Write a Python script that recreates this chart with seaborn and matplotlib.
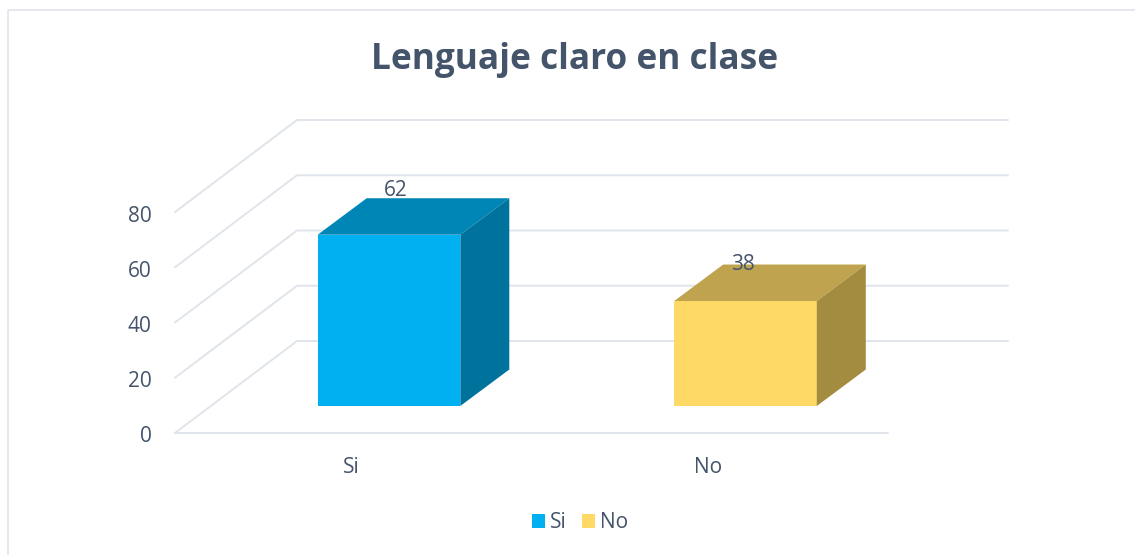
import matplotlib
matplotlib.use('Agg')
import matplotlib.pyplot as plt
from matplotlib.lines import Line2D
from matplotlib.patches import Polygon
from matplotlib.transforms import ScaledTranslation
import pandas as pd
import seaborn as sns

categorias = ['Si', 'No']
valores = [62, 38]
ticks_y = [0, 20, 40, 60, 80]
titulo = 'Lenguaje claro en clase'

cor_frente = ['#00B0F0', '#FFD966']
cor_topo = ['#0086B6', '#BFA34E']
cor_lado = ['#00739C', '#A38B40']
cor_texto = '#44546A'
cor_linha = '#E0E4EB'

sns.set_style('white')
plt.rcParams['font.family'] = ['Open Sans', 'DejaVu Sans']

W, H = 1135, 555
fig = plt.figure(figsize=(W / 100, H / 100), dpi=100)

# eixo do plano da frente (escala e rotulos) e eixo das barras, mais ao fundo
ax = fig.add_axes([175 / W, (H - 433) / H, 713 / W, 221 / H])
ax_b = fig.add_axes([210.75 / W, (H - 406) / H, 713 / W, 221 / H])
ax_b.patch.set_alpha(0)

df = pd.DataFrame({'resposta': categorias, 'pct': valores})

sns.barplot(data=df, x='resposta', y='pct', hue='resposta', palette=cor_frente,
            width=0.4, saturation=1, legend=False, linewidth=0, ax=ax_b)

for a in (ax, ax_b):
    a.set_xlim(-0.5, 1.5)
    a.set_ylim(0, 80)
    sns.despine(ax=a, left=True, bottom=True)
ax_b.axis('off')

# px -> unidades dos dados
ux = 2 / 713
uy = 80 / 221

# paredes: grade do fundo e diagonais
prof_x, prof_y = 122 * ux, 92 * uy
fim_x = 1.5 + 120 * ux
for v in ticks_y:
    ax.plot([-0.5, -0.5 + prof_x, fim_x], [v, v + prof_y, v + prof_y],
            color=cor_linha, lw=1.4, clip_on=False, zorder=1)
ax.plot([-0.5, 1.5], [0, 0], color=cor_linha, lw=1.4, clip_on=False, zorder=1)

ax.set_xticks(range(len(categorias)))
ax.set_xticklabels(categorias)
ax.set_yticks(ticks_y)
ax.tick_params(axis='both', length=0, labelsize=15, labelcolor=cor_texto)
ax.tick_params(axis='x', pad=17)
ax.tick_params(axis='y', pad=17)
ax.set_xlabel('')
ax.set_ylabel('')
for lab in ax.get_xticklabels():
    lab.set_transform(lab.get_transform() + ScaledTranslation(-2 / 100, 0, fig.dpi_scale_trans))
for lab in ax.get_yticklabels():
    lab.set_transform(lab.get_transform() + ScaledTranslation(0, -1.5 / 100, fig.dpi_scale_trans))

# faces 3D das barras
dx, dy = 49 * ux, 36.5 * uy
for i, cont in enumerate(ax_b.containers):
    p = cont[0]
    x0, x1 = p.get_x(), p.get_x() + p.get_width()
    v = p.get_height()
    ax_b.add_patch(Polygon([(x0, v), (x1, v), (x1 + dx, v + dy), (x0 + dx, v + dy)],
                           fc=cor_topo[i], ec='none', clip_on=False))
    ax_b.add_patch(Polygon([(x1, 0), (x1 + dx, dy), (x1 + dx, v + dy), (x1, v)],
                           fc=cor_lado[i], ec='none', clip_on=False))

desloc = [(7, 44), (-3, 37)]
for i, v in enumerate(valores):
    ax_b.annotate(str(v), xy=(i, v), xytext=desloc[i], textcoords='offset pixels',
                  ha='center', va='center', fontsize=15, color=cor_texto,
                  annotation_clip=False)

fig.text(574.5 / W, (H - 60) / H, titulo, ha='center', va='center', fontsize=25.4,
         fontweight='bold', color=cor_texto)

handles = [plt.Rectangle((0, 0), 1, 1, fc=c, ec='none') for c in cor_frente]
fig.legend(handles, categorias, loc='center', bbox_to_anchor=(580 / W, (H - 523) / H),
           ncol=2, frameon=False, fontsize=15, labelcolor=cor_texto,
           handlelength=0.65, handleheight=0.65, handletextpad=0.25, columnspacing=0.7)

# borda do grafico
fig.add_artist(Line2D([8 / W, 8 / W, 1], [0, (H - 10) / H, (H - 10) / H],
                      color=cor_linha, lw=1.2))

fig.savefig('out.png', dpi=100)
